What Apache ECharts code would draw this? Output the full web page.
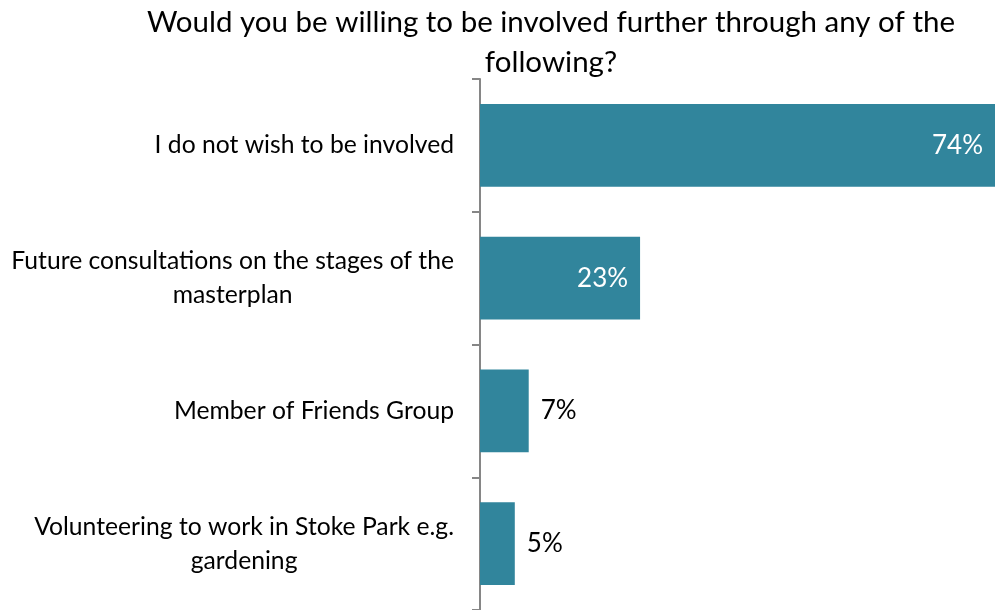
<!DOCTYPE html>
<html>
<head>
<meta charset="utf-8">
<script src="https://cdn.jsdelivr.net/npm/echarts@6/dist/echarts.min.js"></script>
<style>html,body{margin:0;padding:0;background:#fff}#c{width:995px;height:610px}</style>
</head>
<body>
<div id="c"></div>
<script>
var titleText = 'Would you be willing to be involved further through any of the\nfollowing?';
var categories = [
  'I do not wish to be involved',
  'Future consultations on the stages of the\nmasterplan',
  'Member of Friends Group',
  'Volunteering to work in Stoke Park e.g.\ngardening'
];
var values = [74, 23, 7, 5];
var insideThreshold = 15;

var chart = echarts.init(document.getElementById('c'));
var FONT = 'Lato';
chart.setOption({
  animation: false,
  title: {
    text: titleText,
    left: 546,
    textAlign: 'center',
    top: -3,
    textStyle: {fontFamily: FONT, fontSize: 29.5, fontWeight: 'normal', color: '#000', lineHeight: 40}
  },
  grid: {left: 480, right: 0, top: 79, bottom: 0, containLabel: false},
  xAxis: {
    type: 'value', min: 0, max: 74, show: false
  },
  yAxis: {
    type: 'category',
    inverse: true,
    data: categories,
    axisLine: {show: true, lineStyle: {color: '#868686', width: 2}},
    axisTick: {show: true, length: 8, lineStyle: {color: '#868686', width: 2}},
    axisLabel: {
      margin: 26,
      fontFamily: FONT,
      fontSize: 24.7,
      color: '#000',
      lineHeight: 34,
      formatter: function (v) {
        return v.split('\n').map(function (l) { return '{c|' + l + '}'; }).join('\n');
      },
      rich: {c: {align: 'center', fontFamily: FONT, fontSize: 24.7, color: '#000', lineHeight: 34}}
    }
  },
  series: [{
    type: 'bar',
    data: values.map(function (v) {
      var inside = v >= insideThreshold;
      return {
        value: v,
        label: inside ? {position: 'insideRight', color: '#fff', distance: 12}
                      : {position: 'right', color: '#000', distance: 12}
      };
    }),
    barWidth: '62.5%',
    itemStyle: {color: '#31859C'},
    label: {
      show: true,
      fontFamily: FONT,
      fontSize: 26,
      formatter: '{c}%'
    }
  }]
});
</script>
</body>
</html>
